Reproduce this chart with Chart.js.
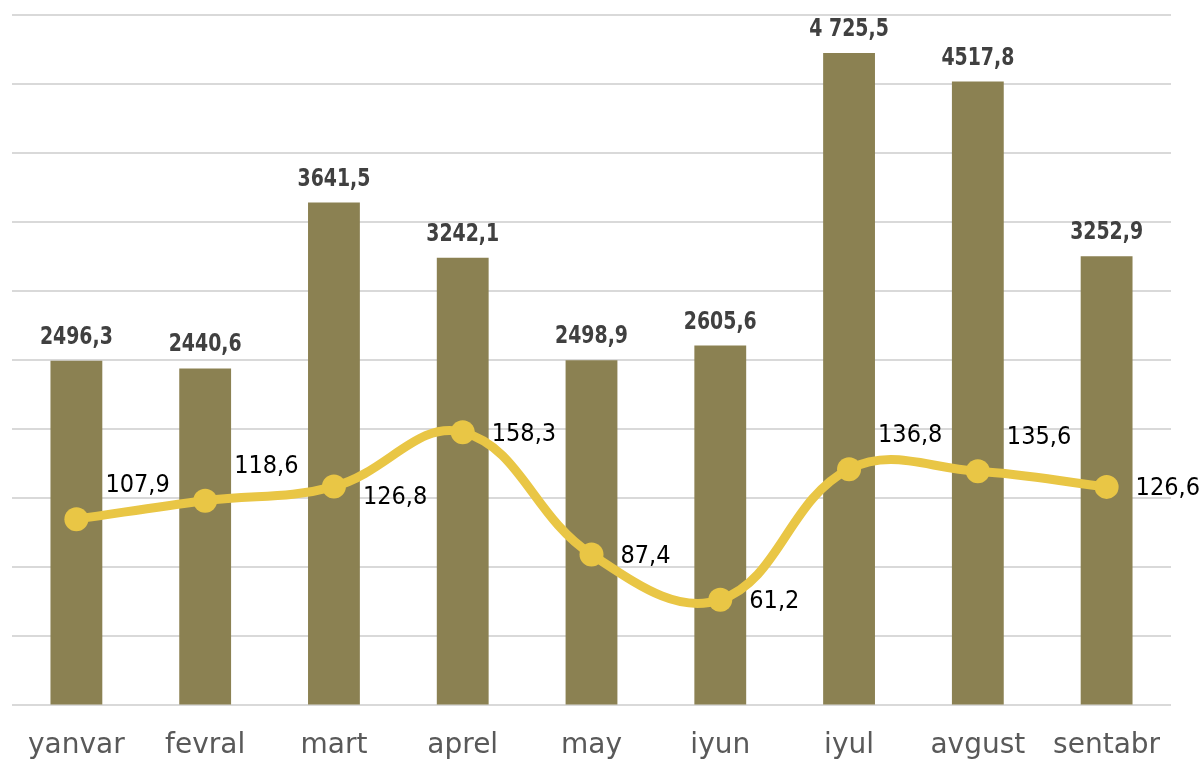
<!DOCTYPE html>
<html>
<head>
<meta charset="utf-8">
<script src="https://cdn.jsdelivr.net/npm/chart.js@4"></script>
<style>
  html, body { margin: 0; padding: 0; background: #ffffff; overflow: hidden; }
  #wrap { width: 1202px; height: 787px; position: relative; }
</style>
</head>
<body>
<div id="wrap"><canvas id="c"></canvas></div>
<script>
// ---- data ----
const categories = ['yanvar', 'fevral', 'mart', 'aprel', 'may', 'iyun', 'iyul', 'avgust', 'sentabr'];
const barValues = [2496.3, 2440.6, 3641.5, 3242.1, 2498.9, 2605.6, 4725.5, 4517.8, 3252.9];
const barLabels = ['2496,3', '2440,6', '3641,5', '3242,1', '2498,9', '2605,6', '4 725,5', '4517,8', '3252,9'];
const lineValues = [107.9, 118.6, 126.8, 158.3, 87.4, 61.2, 136.8, 135.6, 126.6];
const lineLabels = ['107,9', '118,6', '126,8', '158,3', '87,4', '61,2', '136,8', '135,6', '126,6'];
const lineLabelAnchors = ['ne', 'ne', 'se', 'e', 'e', 'e', 'ne', 'ne', 'e'];

const labelPlugin = {
  id: 'valueLabels',
  afterDatasetsDraw(chart) {
    const ctx = chart.ctx;
    // bar labels (condensed bold)
    const barMeta = chart.getDatasetMeta(0);
    barMeta.data.forEach((el, i) => {
      ctx.save();
      ctx.font = 'bold 25px "DejaVu Sans Condensed", "DejaVu Sans", sans-serif';
      ctx.fillStyle = '#404040';
      ctx.textAlign = 'center';
      ctx.textBaseline = 'bottom';
      ctx.translate(el.x, el.y - 11);
      ctx.scale(0.84, 1);
      ctx.fillText(barLabels[i], 0, 0);
      ctx.restore();
    });
    // line labels
    ctx.save();
    const lineMeta = chart.getDatasetMeta(1);
    ctx.font = '25px "DejaVu Sans Condensed", "DejaVu Sans", sans-serif';
    ctx.fillStyle = '#000000';
    ctx.textAlign = 'left';
    ctx.textBaseline = 'middle';
    lineMeta.data.forEach((el, i) => {
      const a = lineLabelAnchors[i];
      let dx = 29, dy = 2;
      if (a === 'ne') dy = -34;
      if (a === 'se') dy = 11;
      ctx.fillText(lineLabels[i], el.x + dx, el.y + dy);
    });
    ctx.restore();
  }
};

new Chart(document.getElementById('c'), {
  data: {
    labels: categories,
    datasets: [
      {
        type: 'bar',
        data: barValues,
        backgroundColor: '#8B8152',
        yAxisID: 'y',
        barPercentage: 0.5,
        categoryPercentage: 0.805,
        order: 2
      },
      {
        type: 'line',
        data: lineValues,
        borderColor: '#E9C645',
        backgroundColor: '#E9C645',
        borderWidth: 9,
        pointRadius: 12,
        pointHoverRadius: 12,
        pointBackgroundColor: '#E9C645',
        pointBorderWidth: 0,
        tension: 0.4,
        cubicInterpolationMode: 'default',
        yAxisID: 'y1',
        order: 1
      }
    ]
  },
  options: {
    responsive: true,
    maintainAspectRatio: false,
    animation: false,
    layout: { padding: { left: -4, right: 31, top: 15, bottom: 0 } },
    plugins: {
      legend: { display: false },
      tooltip: { enabled: false }
    },
    scales: {
      x: {
        grid: { display: false, drawTicks: false },
        border: { display: false },
        ticks: {
          padding: 24,
          color: '#595959',
          font: { family: '"DejaVu Sans", sans-serif', size: 28 },
          maxRotation: 0,
          autoSkip: false
        }
      },
      y: {
        position: 'left',
        min: 0,
        max: 5000,
        ticks: { display: false, stepSize: 500 },
        grid: { color: '#d9d9d9', lineWidth: 2, drawTicks: false },
        border: { display: false }
      },
      y1: {
        position: 'right',
        min: 0,
        max: 400,
        display: false,
        grid: { display: false }
      }
    }
  },
  plugins: [labelPlugin]
});
</script>
</body>
</html>
